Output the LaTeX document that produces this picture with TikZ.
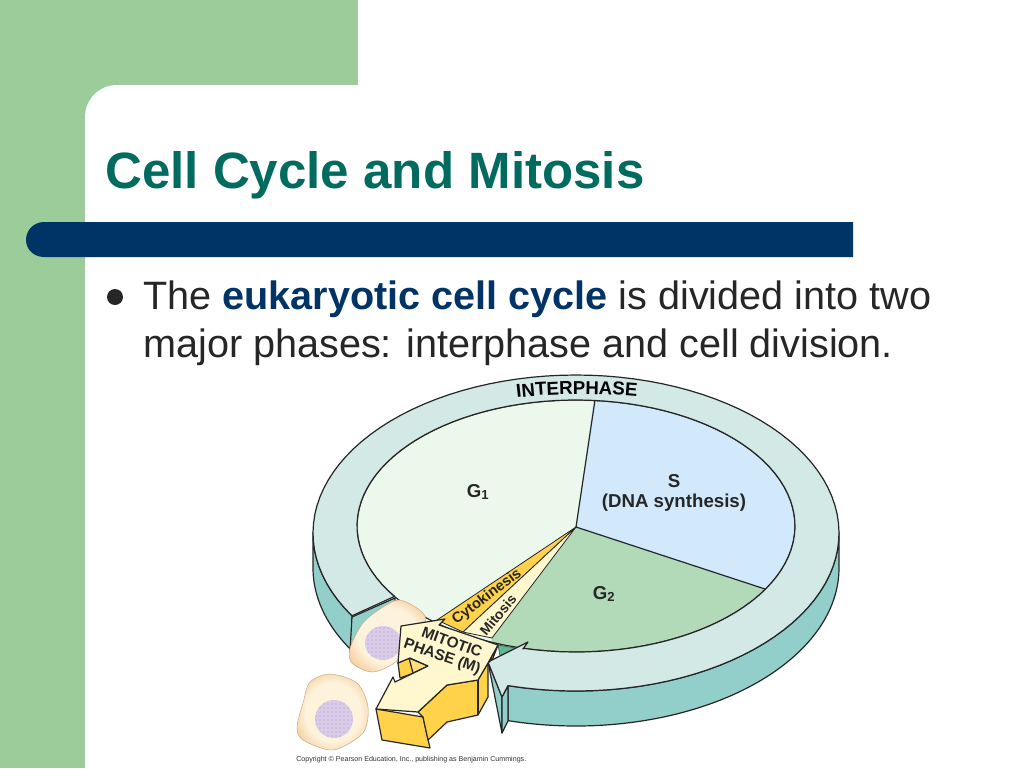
\documentclass[tikz,border=0pt]{standalone}
\usepackage{fontspec}
\setmainfont{Liberation Sans}
\usetikzlibrary{decorations.text,patterns}
\definecolor{slidegreen}{HTML}{9CCC9A}
\definecolor{barblue}{HTML}{003366}
\definecolor{titlegreen}{HTML}{006B5E}
\definecolor{ringtop}{HTML}{D2E9E6}
\definecolor{ringside}{HTML}{92CFCB}
\definecolor{gone}{HTML}{EDF8EC}
\definecolor{sphase}{HTML}{D2E9FB}
\definecolor{gtwo}{HTML}{B3DAB8}
\definecolor{gdark}{HTML}{5FB892}
\definecolor{mcream}{HTML}{FFF8CE}
\definecolor{myellow}{HTML}{FFD24A}
\definecolor{cellout}{HTML}{F3C896}
\definecolor{cellin}{HTML}{FDF3DC}
\definecolor{nucleus}{HTML}{D8CCE8}
\definecolor{nucdots}{HTML}{A898C4}
\pgfdeclareradialshading{cellshade}{\pgfpoint{0bp}{0bp}}{color(0bp)=(cellin);color(19bp)=(cellin);color(31bp)=(cellout);color(50bp)=(cellout)}
\tikzset{
  cutline/.style={draw=black!85,line width=0.9pt,line join=round},
  arcpts/.style={samples=100,variable=\t},
  cellbody/.style={shading=cellshade,draw=cellout!80!black,line width=0.3pt},
  nucbody/.style={fill=nucleus,postaction={pattern=dots,pattern color=nucdots}},
  lab/.style={font=\fontsize{14}{15.5}\selectfont\bfseries,text=black!85,align=center,inner sep=0pt},
  wedgelab/.style={font=\fontsize{11.5}{13}\selectfont\bfseries,text=black!85,inner sep=0pt},
  bodytext/.style={font=\fontsize{29.7}{35}\selectfont,text=black!85,anchor=base west,inner sep=0pt}
}
\begin{document}
\begin{tikzpicture}[x=0.75pt,y=-0.75pt]
\newcommand\outx{576+263*cos(\t)}
\newcommand\outy{533-158*sin(\t)}
\newcommand\outyl{568-158*sin(\t)}
\newcommand\inx{576+219*cos(\t)}
\newcommand\iny{526-126*sin(\t)}
\useasboundingbox (0,0) rectangle (1024,768);
% slide
\fill[white] (0,0) rectangle (1024,768);
\fill[slidegreen] (0,0) rectangle (358,768);
\fill[white] (85,768) -- (85,117) to[out=90,in=180] (117,85) -- (1024,85) -- (1024,768) -- cycle;
\fill[barblue] (853,222) -- (44,222) to[out=180,in=90] (26,240) to[out=-90,in=180] (44,257) -- (853,257) -- cycle;
\node[anchor=base west,inner sep=0pt,text=titlegreen,font=\fontsize{38.3}{44}\selectfont\bfseries] (title) at (105,188) {Cell Cycle and Mitosis};
\fill[black!85] (115,297) circle (8);
\node[bodytext] (line1) at (143,309) {The \textbf{\textcolor{barblue}{eukaryotic cell cycle}} is divided into two};
\node[bodytext] (line2) at (143,357) {major phases: interphase and cell division.};
% walls of the ring
\path[cutline,fill=ringside] plot[arcpts,domain=180:211.6] ({\outx},{\outy}) -- plot[arcpts,domain=211.6:180] ({\outx},{\outyl}) -- cycle;
\path[cutline,fill=ringside] (352,617) -- (395,598) -- (395,640) -- (350,651) -- cycle;
\path[cutline,fill=ringside] plot[arcpts,domain=-105:0] ({\outx},{\outy}) -- plot[arcpts,domain=0:-105] ({\outx},{\outyl}) -- cycle;
\path[cutline,fill=ringside] (488,662) -- (502,697) -- (502,733) -- cycle;
\path[cutline,fill=ringside] (502,697) -- (508,686) -- (508,721) -- (502,733) -- cycle;
% the phases
\begin{scope}
\clip plot[arcpts,domain=0:360] ({\inx},{\iny}) -- cycle;
\fill[gone] (300,350) rectangle (800,700);
\fill[sphase] (576,527) -- (595,390) -- (820,390) -- (820,598) -- (765,589) -- cycle;
\fill[gtwo] (576,527) -- (765,589) -- (790,700) -- (480,700) -- (492,638) -- cycle;
\end{scope}
\path[cutline] plot[arcpts,domain=0:360] ({\inx},{\iny}) -- cycle;
\path[cutline] (595,400) -- (576,527) -- (765,589);
\path[fill=gdark,draw=black!70,line width=0.5pt] (498,645) -- (516,648) -- (500,656) -- cycle;
% top of the ring
\path[cutline,fill=ringtop] plot[arcpts,domain=211.6:-105] ({\outx},{\outy}) -- (502,697) -- (488,662) -- (528,642) -- (523,649) -- plot[arcpts,domain=-104:214] ({\inx},{\iny}) -- cycle;
\path[postaction={decorate,decoration={text along path,text align=center,text={|\fontsize{14}{16}\selectfont\bfseries|INTERPHASE}}}] (514,398) .. controls (555,393) and (598,393) .. (640,397);
% wedges for M
\path[cutline,line width=0.6pt,fill=myellow] (576,527) -- (437,620) -- (463,632) -- cycle;
\path[cutline,line width=0.6pt,fill=mcream] (576,527) -- (463,632) -- (492,638) -- cycle;
\node[wedgelab,rotate=37,font=\fontsize{11}{13}\selectfont\bfseries] (cyto) at (487,597) {Cytokinesis};
\node[wedgelab,rotate=50,font=\fontsize{10.5}{12}\selectfont\bfseries] (mito) at (498,615) {Mitosis};
\node[lab] (gtext1) at (478,492) {G$_{\mathbf{1}}$};
\node[lab] (stext) at (674,493) {S\\(DNA synthesis)};
\node[lab] (gtext2) at (604,594) {G$_{\mathbf{2}}$};
% cells
\shade[cellbody] plot[smooth cycle] coordinates {(400,600) (422,612) (424,626) (398,660) (373,672) (352,663) (350,648) (363,623) (383,607)};
\path[nucbody] (383,643) ellipse (18 and 17);
\shade[cellbody] plot[smooth cycle] coordinates {(330,674) (357,683) (368,707) (363,733) (333,750) (303,740) (297,727) (303,703) (310,682)};
\path[nucbody] (334,719) circle (19);
% mitotic phase arrow
\path[cutline,fill=myellow] (398,663) -- (409,658) -- (414,673) -- (400,678) -- cycle;
\path[cutline,fill=myellow!70!white] (409,658) -- (428,666) -- (413,673) -- cycle;
\path[cutline,fill=myellow] (498,645) -- (493,658) -- (488,663) -- cycle;
\path[cutline,fill=myellow] (376,709) -- (423,717) -- (430,748) -- (382,740) -- cycle;
\path[cutline,fill=myellow] (418,712) -- (447,685) -- (478,680) -- (488,663) -- (488,697) -- (478,715) -- (447,722) -- (428,740) -- (423,717) -- cycle;
\path[cutline] (478,680) -- (478,715);
\path[cutline,fill=mcream] (401,626) -- (445,619) -- (439,625) -- (498,645) -- (488,663) -- (478,680) -- (447,685) -- (418,712) -- (376,709) -- (393,677) -- (395,682) -- (428,666) -- (410,658) -- (398,663) -- cycle;
\node[wedgelab,rotate=-20] (mitotic) at (452,642) {MITOTIC};
\node[wedgelab,rotate=-19] (phase) at (442,657) {PHASE (M)};
\node[anchor=base west,inner sep=0pt,text=black!80,font=\fontsize{5.33}{6}\selectfont] (copyr) at (296,761) {Copyright © Pearson Education, Inc., publishing as Benjamin Cummings.};
\end{tikzpicture}
\end{document}
